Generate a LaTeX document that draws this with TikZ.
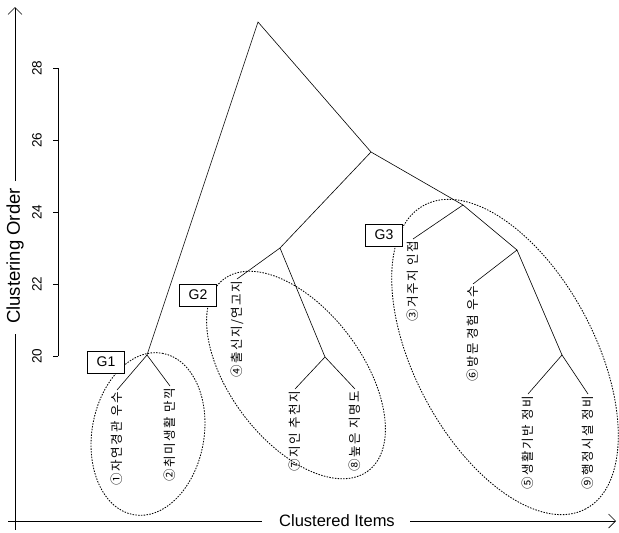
\documentclass[tikz,border=0pt]{standalone}
\usepackage{fontspec}
\setmainfont{Liberation Sans}
\newfontfamily\krfont{Noto Sans CJK KR}[LetterSpace=12]
\usetikzlibrary{arrows.meta}
\begin{document}
\begin{tikzpicture}[x=1pt,y=-1pt,
  branch/.style={line width=0.6pt},
  grp/.style={draw, line width=0.85pt, dash pattern=on 1.5pt off 1.3pt},
  gbox/.style={draw, line width=0.6pt, fill=white, minimum width=37pt, minimum height=22pt, inner sep=0pt, font=\fontsize{14}{14}\selectfont},
  leaf/.style={rotate=90, anchor=east, inner sep=1.5pt, font=\krfont\fontsize{12.5}{13}\selectfont},
  axlbl/.style={inner sep=0pt, font=\fontsize{16.5}{17}\selectfont},
  ticklbl/.style={rotate=90, inner sep=0pt, font=\fontsize{13.5}{14}\selectfont},
  axline/.style={line width=0.7pt},
  arr/.style={-{Straight Barb[length=7pt,width=14pt,line width=0.7pt]}}
]
\useasboundingbox (0,0) rectangle (619,533);

% dendrogram junctions
\coordinate (root) at (258,22);
\coordinate (nB) at (371,152);
\coordinate (nC) at (280,248);
\coordinate (nD) at (463,205);
\coordinate (nA) at (147,355);
\coordinate (nE) at (325,357);
\coordinate (nF) at (517,250);
\coordinate (nG) at (562,355);

% group ellipses
\draw[grp, rotate around={80:(148,434)}] (148,434) ellipse [x radius=82, y radius=56];
\draw[grp, rotate around={-53:(296,375)}] (296,375) ellipse [x radius=120, y radius=66];
\draw[grp, rotate around={-62:(505,357)}] (505,357) ellipse [x radius=172, y radius=90];

% leaves
\node[leaf] (t1) at (117,390) {①자연경관 우수};
\node[leaf] (t2) at (170,386) {②취미생활 만끽};
\node[leaf] (t4) at (237,279) {④출신지/연고지};
\node[leaf] (t7) at (295,389) {⑦지인 추천지};
\node[leaf] (t8) at (355,389) {⑧높은 지명도};
\node[leaf] (t3) at (413,239) {③거주지 인접};
\node[leaf] (t6) at (473,284) {⑥방문 경험 우수};
\node[leaf] (t5) at (528,394) {⑤생활기반 정비};
\node[leaf] (t9) at (588,394) {⑨행정시설 정비};

% branches
\draw[branch] (nA) -- (root) -- (nB);
\draw[branch] (nC) -- (nB) -- (nD);
\draw[branch] (t4.east) -- (nC) -- (nE);
\draw[branch] (t7.east) -- (nE) -- (t8.east);
\draw[branch] (t1.east) -- (nA) -- (t2.east);
\draw[branch] (t3.east) -- (nD) -- (nF);
\draw[branch] (t6.east) -- (nF) -- (nG);
\draw[branch] (t5.east) -- (nG) -- (t9.east);

% group labels
\node[gbox] (g1) at (106,362) {G1};
\node[gbox] (g2) at (198,295) {G2};
\node[gbox] (g3) at (384,235) {G3};

% scale axis
\coordinate (s20) at (58,356);
\coordinate (s22) at (58,284);
\coordinate (s24) at (58,212);
\coordinate (s26) at (58,140);
\coordinate (s28) at (58,68);
\draw[line width=0.6pt] (s20) -- (s28);
\foreach \c/\v in {s20/20,s22/22,s24/24,s26/26,s28/28}{
  \draw[line width=0.6pt] (\c) -- ++(-5,0);
  \node[ticklbl] at ([xshift=-21pt]\c) {\v};
}

% axes
\node[axlbl, rotate=90, font=\fontsize{18.5}{19}\selectfont] (ylab) at (15,256) {Clustering Order};
\coordinate (ytop) at (15,7);
\coordinate (yup) at (15,181);
\coordinate (ylow) at (15,334);
\coordinate (ybot) at (15,530);
\draw[axline, arr] (yup) -- (ytop);
\draw[axline] (ylow) -- (ybot);

\node[axlbl] (xlab) at (337,521) {Clustered Items};
\coordinate (xleft) at (8,521);
\coordinate (xl2) at (262,521);
\coordinate (xr2) at (410,521);
\coordinate (xright) at (616,521);
\draw[axline] (xleft) -- (xl2);
\draw[axline, arr] (xr2) -- (xright);
\end{tikzpicture}
\end{document}
